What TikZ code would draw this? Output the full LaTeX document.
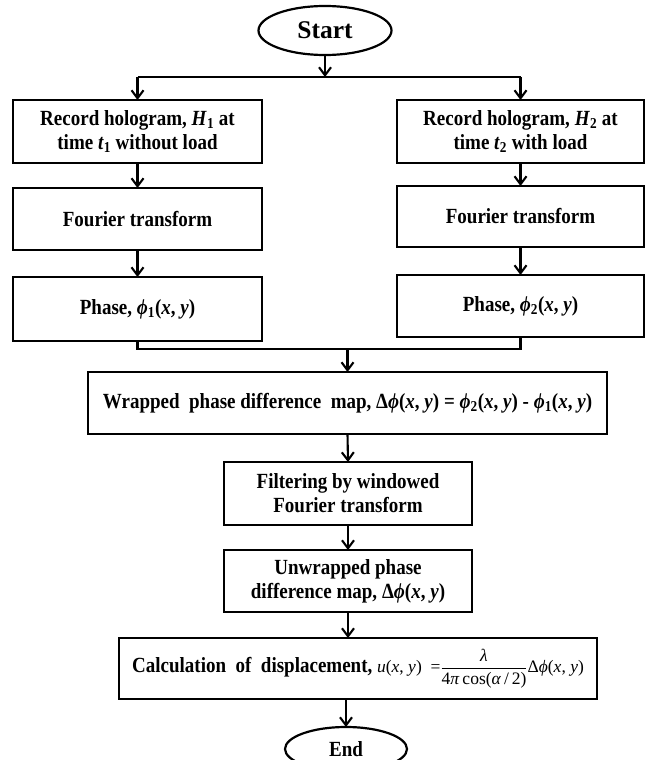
\documentclass[tikz,border=0pt]{standalone}
\usepackage{fontspec}
\setmainfont{Liberation Serif}[FakeStretch=0.88]
\newfontfamily\plainserif{Liberation Serif}
\usetikzlibrary{arrows.meta,shapes.geometric}
\newcommand{\ti}[1]{\textit{#1}}
\newcommand{\sbs}[1]{\textsubscript{#1}}
\begin{document}
\begin{tikzpicture}[x=1pt,y=-1pt,
  every node/.style={inner sep=0pt, outer sep=0pt},
  pbox/.style={draw, line width=2.2pt, rectangle, align=center,
    font=\fontsize{21.6}{24}\selectfont\bfseries},
  term/.style={draw, line width=2.2pt, ellipse},
  conn/.style={line width=2.1pt},
  arr/.style={line width=2.1pt, -{Straight Barb[length=8pt,width=12pt,line width=2.1pt]}}
]
\useasboundingbox (0,0) rectangle (645,760);
\fill[white] (0,0) rectangle (645,760);

\node[term, minimum width=133, minimum height=49, font=\plainserif\fontsize{25.5}{30}\selectfont\bfseries] (start) at (325,30.5) {Start};

\node[pbox, minimum width=249, minimum height=63] (L1) at (137.5,131.5) {Record hologram, \ti{H}\sbs{1} at\\time \ti{t}\sbs{1} without load};
\node[pbox, minimum width=247, minimum height=63] (R1) at (520.5,131.5) {Record hologram, \ti{H}\sbs{2} at\\time \ti{t}\sbs{2} with load};

\node[pbox, minimum width=249, minimum height=62] (L2) at (137.5,219) {Fourier transform};
\node[pbox, minimum width=247, minimum height=61] (R2) at (520.5,216.5) {Fourier transform};

\node[pbox, minimum width=249, minimum height=64] (L3) at (137.5,309) {Phase, \ti{ϕ}\sbs{1}(\ti{x}, \ti{y})};
\node[pbox, minimum width=247, minimum height=62] (R3) at (520.5,306) {Phase, \ti{ϕ}\sbs{2}(\ti{x}, \ti{y})};

\node[pbox, minimum width=519, minimum height=62] (W) at (347.5,403) {Wrapped\ \ phase difference\ \ map, Δ\ti{ϕ}(\ti{x}, \ti{y}) = \ti{ϕ}\sbs{2}(\ti{x}, \ti{y}) - \ti{ϕ}\sbs{1}(\ti{x}, \ti{y})};

\node[pbox, minimum width=248, minimum height=63] (F) at (348,493.5) {Filtering by windowed\\Fourier transform};

\node[pbox, minimum width=248, minimum height=62] (U) at (348,581) {Unwrapped phase\\difference map, Δ\ti{ϕ}(\ti{x}, \ti{y})};

\node[pbox, minimum width=478, minimum height=61] (C) at (358,668.5) {Calculation\ \ of\ \ displacement,\ {\plainserif\mdseries\fontsize{17.5}{20}\selectfont$\displaystyle\textup{\ti{u}(\ti{x}, \ti{y})\ \ =}\frac{\textup{\ti{λ}}}{\textup{4\ti{π}\,cos(\ti{α}\,/\,2)}}\textup{Δ\ti{ϕ}(\ti{x}, \ti{y})}$}};

\node[term, minimum width=122, minimum height=44, font=\fontsize{21.6}{24}\selectfont\bfseries] (end) at (346,749) {End};

% connectors
\coordinate (split) at (325,77);
\coordinate (merge) at (347.5,349);
\draw[arr] (start.south) -- (split);
\draw[conn] (split -| L1.north) -- (split -| R1.north);
\draw[arr] (split -| L1.north) -- (L1.north);
\draw[arr] (split -| R1.north) -- (R1.north);
\draw[arr] (L1.south) -- (L2.north);
\draw[arr] (L2.south) -- (L3.north);
\draw[arr] (R1.south) -- (R2.north);
\draw[arr] (R2.south) -- (R3.north);
\draw[conn] (L3.south) |- (merge) -| (R3.south);
\draw[arr] (merge) -- (W.north);
\draw[arr] (W.south) -- (F.north);
\draw[arr] (F.south) -- (U.north);
\draw[arr] (U.south) -- (U.south |- C.north);
\draw[arr] (end.north |- C.south) -- (end.north);
\end{tikzpicture}
\end{document}
